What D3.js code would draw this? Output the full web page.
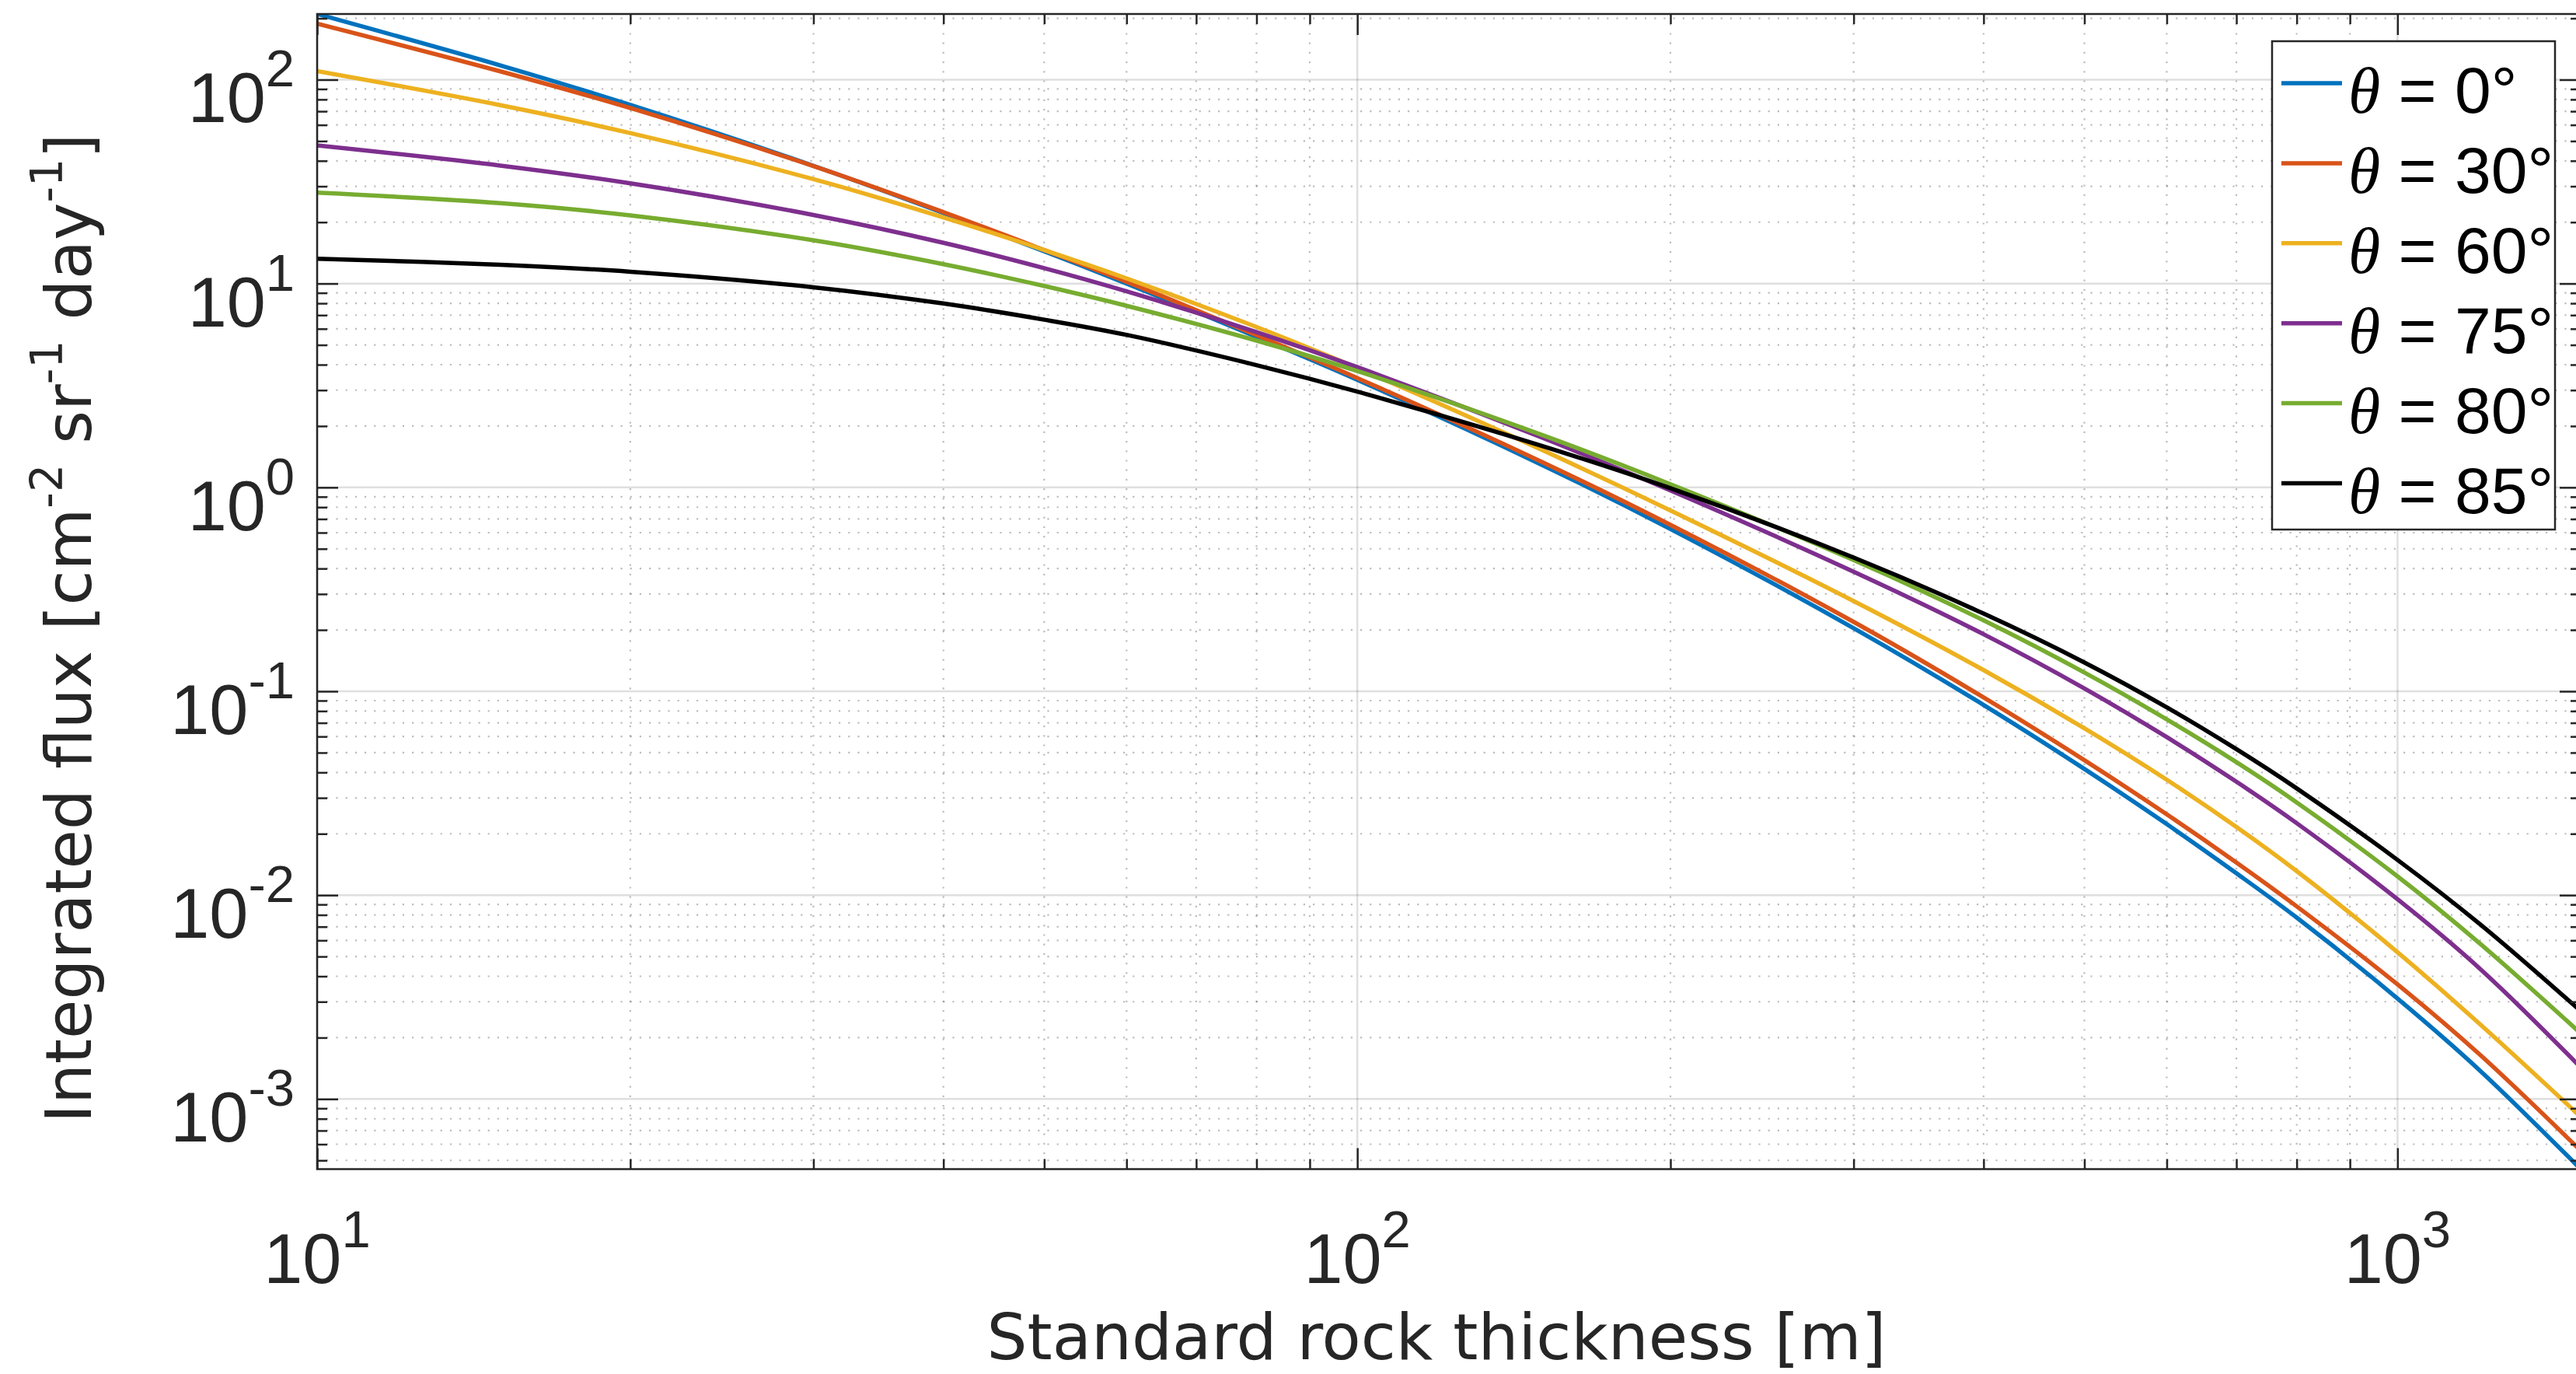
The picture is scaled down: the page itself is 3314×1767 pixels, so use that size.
<!DOCTYPE html>
<html lang="en">
<head>
<meta charset="utf-8">
<title>Integrated flux vs standard rock thickness</title>
<script src="https://cdn.jsdelivr.net/npm/d3@7"></script>
<style>
  body { margin: 0; background: #fff; }
  svg { display: block; }
</style>
</head>
<body>
<script>
// standard rock thickness [m]
var thickness = [10, 15, 20, 30, 40, 50, 60, 80, 100, 150, 200, 300, 400, 500, 600, 700, 800, 1000, 1200, 1500];

// integrated flux [cm^-2 sr^-1 day^-1], one array per zenith angle
var flux0  = [210, 117.5, 75.2, 37.8, 22.2, 14.4, 10.0, 5.48, 3.37, 1.30, 0.625, 0.204, 0.0857, 0.0416, 0.0223, 0.0128, 0.00776, 0.00311, 0.00138, 0.000453];
var flux30 = [188.4, 109.9, 72.6, 37.7, 22.4, 14.6, 10.2, 5.58, 3.44, 1.343, 0.655, 0.219, 0.0933, 0.0459, 0.0249, 0.01445, 0.00881, 0.00365, 0.00165, 0.000558];
var flux60 = [110.2, 75.0, 54.7, 32.5, 21.1, 14.6, 10.6, 6.12, 3.85, 1.538, 0.771, 0.277, 0.127, 0.0658, 0.0368, 0.0216, 0.01312, 0.00525, 0.00233, 0.000818];
var flux75 = [47.6, 37.9, 31.0, 21.7, 15.85, 11.9, 9.16, 5.78, 3.89, 1.766, 0.966, 0.386, 0.1905, 0.1033, 0.0596, 0.0360, 0.02254, 0.00955, 0.00436, 0.00143];
var flux80 = [27.9, 24.8, 21.6, 16.3, 12.45, 9.73, 7.78, 5.25, 3.72, 1.820, 1.037, 0.440, 0.2228, 0.1236, 0.0728, 0.0449, 0.0285, 0.01236, 0.00579, 0.00210];
var flux85 = [13.24, 12.36, 11.43, 9.59, 7.98, 6.65, 5.60, 3.98, 2.95, 1.607, 0.991, 0.453, 0.2404, 0.1384, 0.0834, 0.0520, 0.0334, 0.01489, 0.00721, 0.00270];

var angles = ["0", "30", "60", "75", "80", "85"];
var allFlux = [flux0, flux30, flux60, flux75, flux80, flux85];

var xTicks = [10, 100, 1000];
var xTickExp = ["1", "2", "3"];
var yTicks = [1e-3, 1e-2, 1e-1, 1, 10, 100];
var yTickExp = ["-3", "-2", "-1", "0", "1", "2"];

// MATLAB default line colours
var colors = ["#0072BD", "#D95319", "#EDB120", "#7E2F8E", "#77AC30", "#000000"];

var W = 3314, H = 1767;
var pL = 408, pR = 3320, pT = 18, pB = 1503.5;   // plot box
var axisColor = "#262626";
var tickFont = "'Liberation Sans', Arial, Helvetica, sans-serif";
var labelFont = "'DejaVu Sans', Verdana, sans-serif";

var svg = d3.select("body").append("svg")
    .attr("width", W)
    .attr("height", H);

svg.append("rect").attr("width", W).attr("height", H).attr("fill", "#fff");

var yMin = d3.min(allFlux, function(s) { return d3.min(s); });
var yMax = d3.max(allFlux, function(s) { return d3.max(s); });

var xScale = d3.scaleLog().domain([10, 1500]).range([pL, pR]);
var yScale = d3.scaleLog().domain([yMin, yMax]).range([pB, pT]);

var xMinor = xScale.ticks().filter(function(d) { return xTicks.indexOf(d) < 0; });
var yMinor = yScale.ticks().filter(function(d) {
    var lg = Math.log10(d);
    return Math.abs(lg - Math.round(lg)) > 1e-6;
});

// grid
var grid = svg.append("g");
grid.selectAll(".xminor").data(xMinor).enter().append("line")
    .attr("x1", function(d) { return xScale(d); }).attr("x2", function(d) { return xScale(d); })
    .attr("y1", pT).attr("y2", pB)
    .attr("stroke", axisColor).attr("stroke-opacity", 0.3)
    .attr("stroke-width", 2.2).attr("stroke-dasharray", "2.2,10");
grid.selectAll(".yminor").data(yMinor).enter().append("line")
    .attr("x1", pL).attr("x2", pR)
    .attr("y1", function(d) { return yScale(d); }).attr("y2", function(d) { return yScale(d); })
    .attr("stroke", axisColor).attr("stroke-opacity", 0.3)
    .attr("stroke-width", 2.2).attr("stroke-dasharray", "2.2,10");
grid.selectAll(".xmajor").data(xTicks).enter().append("line")
    .attr("x1", function(d) { return xScale(d); }).attr("x2", function(d) { return xScale(d); })
    .attr("y1", pT).attr("y2", pB)
    .attr("stroke", axisColor).attr("stroke-opacity", 0.15).attr("stroke-width", 2.5);
grid.selectAll(".ymajor").data(yTicks).enter().append("line")
    .attr("x1", pL).attr("x2", pR)
    .attr("y1", function(d) { return yScale(d); }).attr("y2", function(d) { return yScale(d); })
    .attr("stroke", axisColor).attr("stroke-opacity", 0.15).attr("stroke-width", 2.5);

// curves
svg.append("clipPath").attr("id", "plotclip").append("rect")
    .attr("x", pL).attr("y", pT).attr("width", pR - pL).attr("height", pB - pT);

var line = d3.line()
    .x(function(d) { return xScale(d[0]); })
    .y(function(d) { return yScale(d[1]); })
    .curve(d3.curveCatmullRom.alpha(0.5));

svg.append("g").attr("clip-path", "url(#plotclip)")
    .selectAll("path").data(allFlux).enter().append("path")
    .attr("d", function(s) { return line(d3.zip(thickness, s)); })
    .attr("fill", "none")
    .attr("stroke", function(d, i) { return colors[i]; })
    .attr("stroke-width", 5.5)
    .attr("stroke-linejoin", "round");

// ticks on all four sides, pointing inwards
function ticks(axisFn, scale, vals, len, tx, ty) {
    svg.append("g").attr("transform", "translate(" + tx + "," + ty + ")")
        .call(axisFn(scale).tickValues(vals).tickSize(-len).tickFormat(""))
        .call(function(g) { g.select(".domain").remove(); })
        .selectAll("line").attr("stroke", axisColor).attr("stroke-width", 2.5);
}
ticks(d3.axisBottom, xScale, xTicks, 27, 0, pB);
ticks(d3.axisBottom, xScale, xMinor, 13, 0, pB);
ticks(d3.axisTop, xScale, xTicks, 27, 0, pT);
ticks(d3.axisTop, xScale, xMinor, 13, 0, pT);
ticks(d3.axisLeft, yScale, yTicks, 27, pL, 0);
ticks(d3.axisLeft, yScale, yMinor, 13, pL, 0);
ticks(d3.axisRight, yScale, yTicks, 27, pR, 0);
ticks(d3.axisRight, yScale, yMinor, 13, pR, 0);

svg.append("rect")
    .attr("x", pL).attr("y", pT).attr("width", pR - pL).attr("height", pB - pT)
    .attr("fill", "none").attr("stroke", axisColor).attr("stroke-width", 2.5);

// tick labels 10^n
var yLab = svg.append("g").selectAll("text").data(yTicks).enter().append("text")
    .attr("x", pL - 29)
    .attr("y", function(d) { return yScale(d) + 55; })
    .attr("text-anchor", "end")
    .attr("font-family", tickFont)
    .attr("fill", axisColor);
yLab.append("tspan").attr("font-size", 90).text("10");
yLab.append("tspan").attr("font-size", 67).attr("dy", -46)
    .text(function(d, i) { return yTickExp[i]; });

var xLab = svg.append("g").selectAll("text").data(xTicks).enter().append("text")
    .attr("x", function(d) { return xScale(d); })
    .attr("y", 1650)
    .attr("text-anchor", "middle")
    .attr("font-family", tickFont)
    .attr("fill", axisColor);
xLab.append("tspan").attr("font-size", 90).text("10");
xLab.append("tspan").attr("font-size", 67).attr("dy", -46)
    .text(function(d, i) { return xTickExp[i]; });

// axis labels
svg.append("text")
    .attr("x", 1848).attr("y", 1748)
    .attr("text-anchor", "middle")
    .attr("font-family", labelFont).attr("font-size", 82)
    .attr("fill", axisColor)
    .text("Standard rock thickness [m]");

var yTitle = svg.append("text")
    .attr("transform", "translate(117,808) rotate(-90)")
    .attr("text-anchor", "middle")
    .attr("font-family", labelFont).attr("font-size", 82)
    .attr("fill", axisColor);
var yParts = [["Integrated flux [cm", false], ["-2", true], [" sr", false], ["-1", true], [" day", false], ["-1", true], ["]", false]];
yParts.forEach(function(p, i) {
    var prevSup = i > 0 && yParts[i - 1][1];
    yTitle.append("tspan")
        .attr("font-size", p[1] ? 57 : 82)
        .attr("dy", p[1] ? -37 : (prevSup ? 37 : 0))
        .text(p[0]);
});

// legend
var lg = svg.append("g");
lg.append("rect")
    .attr("x", 2923).attr("y", 53).attr("width", 364).attr("height", 628)
    .attr("fill", "#fff").attr("stroke", axisColor).attr("stroke-width", 2.5);
var rows = lg.selectAll(".row").data(angles).enter().append("g")
    .attr("transform", function(d, i) { return "translate(0," + (107 + i * 102.9) + ")"; });
rows.append("line")
    .attr("x1", 2935).attr("x2", 3013)
    .attr("stroke", function(d, i) { return colors[i]; })
    .attr("stroke-width", 5.5);
var rowText = rows.append("text")
    .attr("x", 3021).attr("y", 38)
    .attr("font-size", 84).attr("fill", "#000");
rowText.append("tspan")
    .attr("font-family", "'Liberation Serif', 'Times New Roman', serif")
    .attr("font-style", "italic")
    .text("\u03b8");
rowText.append("tspan")
    .attr("font-family", tickFont)
    .text(function(d) { return " = " + d + "\u00b0"; });
</script>
</body>
</html>
